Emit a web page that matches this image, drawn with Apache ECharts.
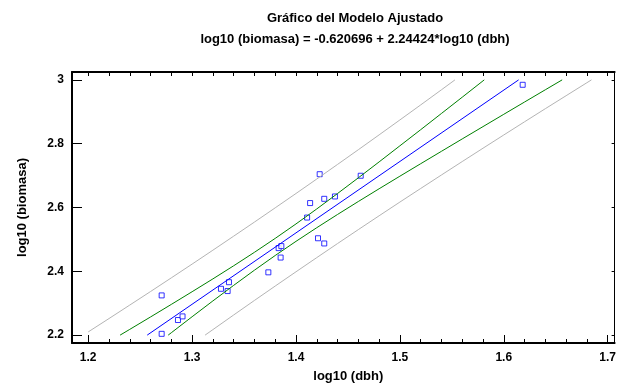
<!DOCTYPE html>
<html>
<head>
<meta charset="utf-8">
<script src="https://cdn.jsdelivr.net/npm/echarts@6/dist/echarts.min.js"></script>
<style>
  html, body { margin: 0; padding: 0; background: #fff; }
  #chart { width: 619px; height: 388px; }
</style>
</head>
<body>
<div id="chart"></div>
<script>
// observed points, log10(dbh) vs log10(biomasa)
const obsX = [1.2707, 1.2707, 1.2864, 1.2908, 1.3278, 1.3342, 1.3355, 1.3734, 1.3833, 1.3859,
  1.3852, 1.4107, 1.4212, 1.4272, 1.4228, 1.4136, 1.4272, 1.4375, 1.4623, 1.6182];
const obsY = [2.3245, 2.2040, 2.2473, 2.2587, 2.3452, 2.3381, 2.3659, 2.3968, 2.4727, 2.4789,
  2.4431, 2.5685, 2.5036, 2.4873, 2.7044, 2.6139, 2.6272, 2.6346, 2.6995, 2.9846];

// fitted line
const fitX = [1.2568, 1.6143];
const fitY = [2.2, 3.0];

// confidence limits (green)
const upperConfX = [1.2307, 1.24, 1.26, 1.28, 1.30, 1.32, 1.34, 1.36, 1.38, 1.40, 1.42, 1.44,
  1.46, 1.48, 1.50, 1.52, 1.54, 1.56, 1.58, 1.5812];
const upperConfY = [2.2, 2.2180, 2.2569, 2.2963, 2.3360, 2.3762, 2.4173, 2.4595, 2.5032, 2.5485,
  2.5955, 2.6438, 2.6930, 2.7429, 2.7933, 2.8438, 2.8947, 2.9457, 2.9969, 3.0];
const lowerConfX = [1.277, 1.28, 1.30, 1.32, 1.34, 1.36, 1.38, 1.40, 1.42, 1.44, 1.46, 1.48,
  1.50, 1.52, 1.54, 1.56, 1.58, 1.60, 1.62, 1.64, 1.6562];
const lowerConfY = [2.2, 2.2075, 2.2576, 2.3072, 2.3559, 2.4035, 2.4496, 2.4939, 2.5367, 2.5782,
  2.6188, 2.6587, 2.6981, 2.7372, 2.7761, 2.8149, 2.8535, 2.8921, 2.9306, 2.9690, 3.0];

// prediction limits (gray)
const upperPredX = [1.20, 1.22, 1.24, 1.26, 1.28, 1.30, 1.32, 1.34, 1.36, 1.38, 1.40, 1.42,
  1.44, 1.46, 1.48, 1.50, 1.52, 1.54, 1.553];
const upperPredY = [2.2100, 2.2519, 2.2942, 2.3366, 2.3795, 2.4226, 2.4662, 2.5101, 2.5543, 2.5990,
  2.6439, 2.6893, 2.7350, 2.7811, 2.8276, 2.8744, 2.9215, 2.9689, 3.0];
const lowerPredX = [1.3125, 1.32, 1.34, 1.36, 1.38, 1.40, 1.42, 1.44, 1.46, 1.48, 1.50, 1.52,
  1.54, 1.56, 1.58, 1.60, 1.62, 1.64, 1.66, 1.68, 1.6844];
const lowerPredY = [2.2, 2.2172, 2.2631, 2.3087, 2.3538, 2.3985, 2.4429, 2.4870, 2.5307, 2.5740,
  2.6170, 2.6596, 2.7019, 2.7440, 2.7858, 2.8273, 2.8686, 2.9097, 2.9504, 2.9911, 3.0];

// axes
const xTicks = [1.2, 1.3, 1.4, 1.5, 1.6, 1.7];
const xTickLabels = ["1.2", "1.3", "1.4", "1.5", "1.6", "1.7"];
const xMinorTicks = [1.2, 1.22, 1.24, 1.26, 1.28, 1.3, 1.32, 1.34, 1.36, 1.38, 1.4, 1.42, 1.44,
  1.46, 1.48, 1.5, 1.52, 1.54, 1.56, 1.58, 1.6, 1.62, 1.64, 1.66, 1.68, 1.7];
const yTicks = [2.2, 2.4, 2.6, 2.8, 3.0];
const yTickLabels = ["2.2", "2.4", "2.6", "2.8", "3"];

const X_MIN = 1.1844, X_MAX = 1.7067;
const Y_MIN = 2.1753, Y_MAX = 3.0247;

const zip = (xs, ys) => xs.map((x, i) => [x, ys[i]]);

const chart = echarts.init(document.getElementById("chart"));
const font = "'Liberation Sans', Arial, sans-serif";
const black = "#000";

const plainAxis = {
  min: X_MIN,
  max: X_MAX,
  type: "value",
  splitLine: { show: false },
  axisLabel: { show: false },
};

chart.setOption({
  animation: false,
  backgroundColor: "#fff",
  title: [
    {
      text: "Gráfico del Modelo Ajustado",
      left: 350,
      top: 7,
      textAlign: "center",
      textStyle: { fontFamily: font, fontSize: 13, fontWeight: "bold", color: black },
    },
    {
      text: "log10 (biomasa) = -0.620696 + 2.24424*log10 (dbh)",
      left: 350,
      top: 28,
      textAlign: "center",
      textStyle: { fontFamily: font, fontSize: 13, fontWeight: "bold", color: black },
    },
  ],
  grid: { left: 72, right: 1, top: 72, bottom: 41 },
  xAxis: [
    {
      ...plainAxis,
      position: "bottom",
      axisLine: { onZero: false, lineStyle: { color: black, width: 2 } },
      axisTick: { inside: true, length: 8, customValues: xTicks, lineStyle: { color: black, width: 1 } },
      axisLabel: {
        show: true,
        customValues: xTicks,
        formatter: (v) => xTickLabels[xTicks.findIndex((t) => Math.abs(t - v) < 1e-6)],
        margin: 9,
        fontFamily: font,
        fontSize: 12,
        fontWeight: "bold",
        color: black,
      },
      name: "log10 (dbh)",
      nameLocation: "middle",
      nameGap: 27,
      nameTextStyle: { fontFamily: font, fontSize: 13, fontWeight: "bold", color: black, padding: [0, 0, 0, 10] },
    },
    {
      ...plainAxis,
      position: "bottom",
      axisLine: { show: false, onZero: false },
      axisTick: { inside: true, length: 4, customValues: xMinorTicks, lineStyle: { color: black } },
    },
    {
      ...plainAxis,
      position: "top",
      axisLine: { onZero: false, lineStyle: { color: black, width: 2 } },
      axisTick: { inside: true, length: 4, customValues: xMinorTicks, lineStyle: { color: black } },
    },
  ],
  yAxis: [
    {
      type: "value",
      min: Y_MIN,
      max: Y_MAX,
      position: "left",
      splitLine: { show: false },
      axisLine: { show: true, onZero: false, lineStyle: { color: black, width: 2 } },
      axisTick: { show: true, inside: true, length: 10, customValues: yTicks, lineStyle: { color: black } },
      axisLabel: {
        customValues: yTicks,
        formatter: (v) => yTickLabels[yTicks.findIndex((t) => Math.abs(t - v) < 1e-6)],
        margin: 8,
        fontFamily: font,
        fontSize: 12,
        fontWeight: "bold",
        color: black,
      },
      name: "log10 (biomasa)",
      nameLocation: "middle",
      nameGap: 43,
      nameTextStyle: { fontFamily: font, fontSize: 13, fontWeight: "bold", color: black },
    },
    {
      type: "value",
      min: Y_MIN,
      max: Y_MAX,
      position: "right",
      splitLine: { show: false },
      axisLabel: { show: false },
      axisLine: { show: true, onZero: false, lineStyle: { color: black, width: 1 } },
      axisTick: { show: true, inside: true, length: 3, customValues: yTicks, lineStyle: { color: black } },
    },
  ],
  series: [
    { type: "line", data: zip(upperPredX, upperPredY), showSymbol: false, lineStyle: { color: "#b4b4b4", width: 1 } },
    { type: "line", data: zip(lowerPredX, lowerPredY), showSymbol: false, lineStyle: { color: "#b4b4b4", width: 1 } },
    { type: "line", data: zip(upperConfX, upperConfY), showSymbol: false, lineStyle: { color: "#008000", width: 1 } },
    { type: "line", data: zip(lowerConfX, lowerConfY), showSymbol: false, lineStyle: { color: "#008000", width: 1 } },
    { type: "line", data: zip(fitX, fitY), showSymbol: false, lineStyle: { color: "#0000ff", width: 1 } },
    {
      type: "scatter",
      data: zip(obsX, obsY),
      symbol: "rect",
      symbolSize: 5,
      itemStyle: { color: "#fff", borderColor: "#0000ff", borderWidth: 1 },
    },
  ],
});
</script>
</body>
</html>
